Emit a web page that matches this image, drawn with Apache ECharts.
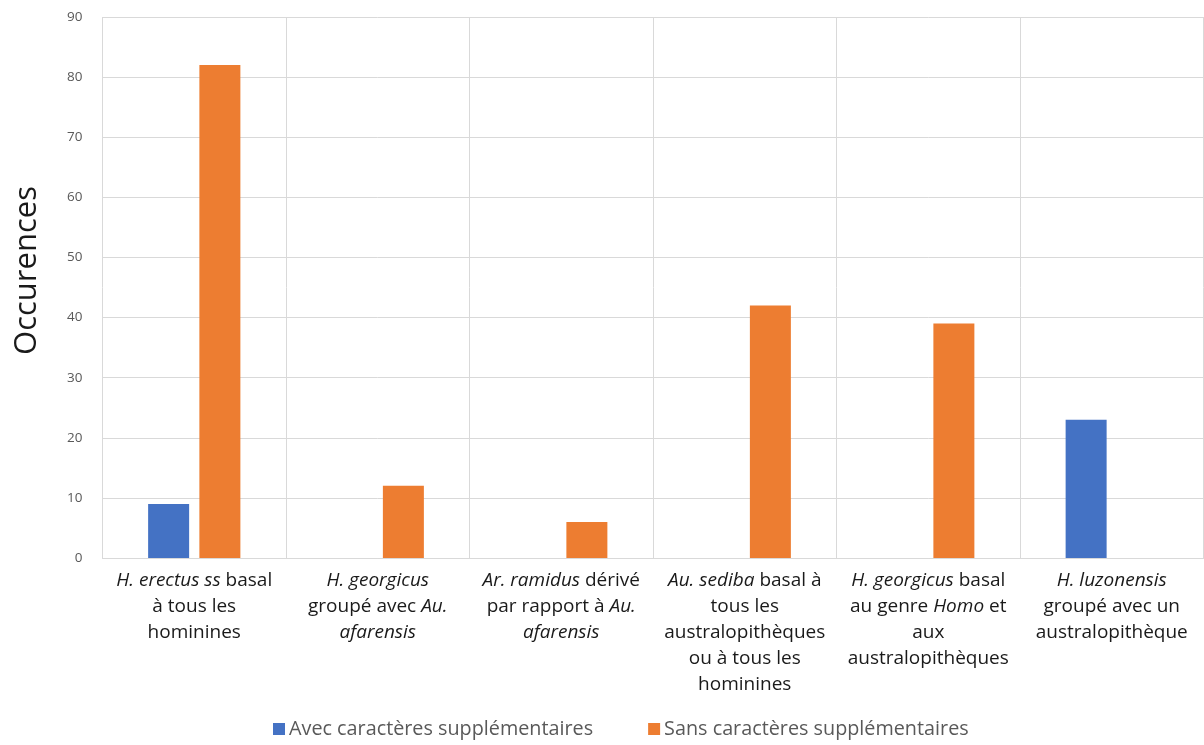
<!DOCTYPE html>
<html><head><meta charset="utf-8">
<script src="https://cdn.jsdelivr.net/npm/echarts@6/dist/echarts.min.js"></script>
<style>html,body{margin:0;padding:0;background:#fff}#c{width:1204px;height:745px}</style>
</head><body><div id="c"></div>
<script>
var categories = [
  "{i|H. erectus ss} basal\nà tous les\nhominines",
  "{i|H. georgicus}\ngroupé avec {i|Au.}\n{i|afarensis}",
  "{i|Ar. ramidus} dérivé\npar rapport à {i|Au.}\n{i|afarensis}",
  "{i|Au. sediba} basal à\ntous les\naustralopithèques\nou à tous les\nhominines",
  "{i|H. georgicus} basal\nau genre {i|Homo} et\naux\naustralopithèques",
  "{i|H. luzonensis}\ngroupé avec un\naustralopithèque"
];
var avecValues = [9, 0, 0, 0, 0, 23];
var sansValues = [82, 12, 6, 42, 39, 0];
var yTicks = [0, 10, 20, 30, 40, 50, 60, 70, 80, 90];
var seriesNames = ["Avec caractères supplémentaires", "Sans caractères supplémentaires"];

var FONT = "Open Sans";
var chart = echarts.init(document.getElementById('c'), null, {renderer: 'canvas'});
chart.setOption({
  animation: false,
  textStyle: {fontFamily: FONT},
  grid: {left: 102.5, right: 0.5, top: 17, bottom: 187, containLabel: false},
  legend: {
    top: 719, left: 273, padding: 0,
    itemWidth: 12, itemHeight: 12, itemGap: 55,
    icon: 'rect',
    textStyle: {fontFamily: FONT, fontSize: 19.8, color: '#595959', padding: [0, 0, 0, -1]},
    data: seriesNames
  },
  xAxis: {
    type: 'category',
    data: categories,
    axisLine: {show: true, lineStyle: {color: '#d9d9d9'}},
    axisTick: {show: false},
    splitLine: {show: true, lineStyle: {color: '#d9d9d9'}},
    axisLabel: {
      interval: 0, margin: 10,
      fontFamily: FONT, fontSize: 19, color: '#1a1a1a', lineHeight: 26,
      align: 'center',
      rich: {i: {fontStyle: 'italic', fontFamily: FONT, fontSize: 19, color: '#1a1a1a', lineHeight: 26}}
    }
  },
  yAxis: {
    type: 'value',
    min: yTicks[0], max: yTicks[yTicks.length - 1], interval: 10,
    name: 'Occurences', nameLocation: 'middle', nameGap: 60,
    nameTextStyle: {fontFamily: FONT, fontSize: 31, color: '#1a1a1a', padding: [0, 0, 0, 34]},
    axisLine: {show: false}, axisTick: {show: false},
    splitLine: {lineStyle: {color: '#d9d9d9'}},
    axisLabel: {fontFamily: FONT, fontSize: 13.5, color: '#595959', margin: 20}
  },
  series: [
    {name: seriesNames[0], type: 'bar', data: avecValues, barWidth: 41, barGap: '25%',
     itemStyle: {color: '#4472C4'}},
    {name: seriesNames[1], type: 'bar', data: sansValues, barWidth: 41,
     itemStyle: {color: '#ED7D31'}}
  ]
});
</script></body></html>
